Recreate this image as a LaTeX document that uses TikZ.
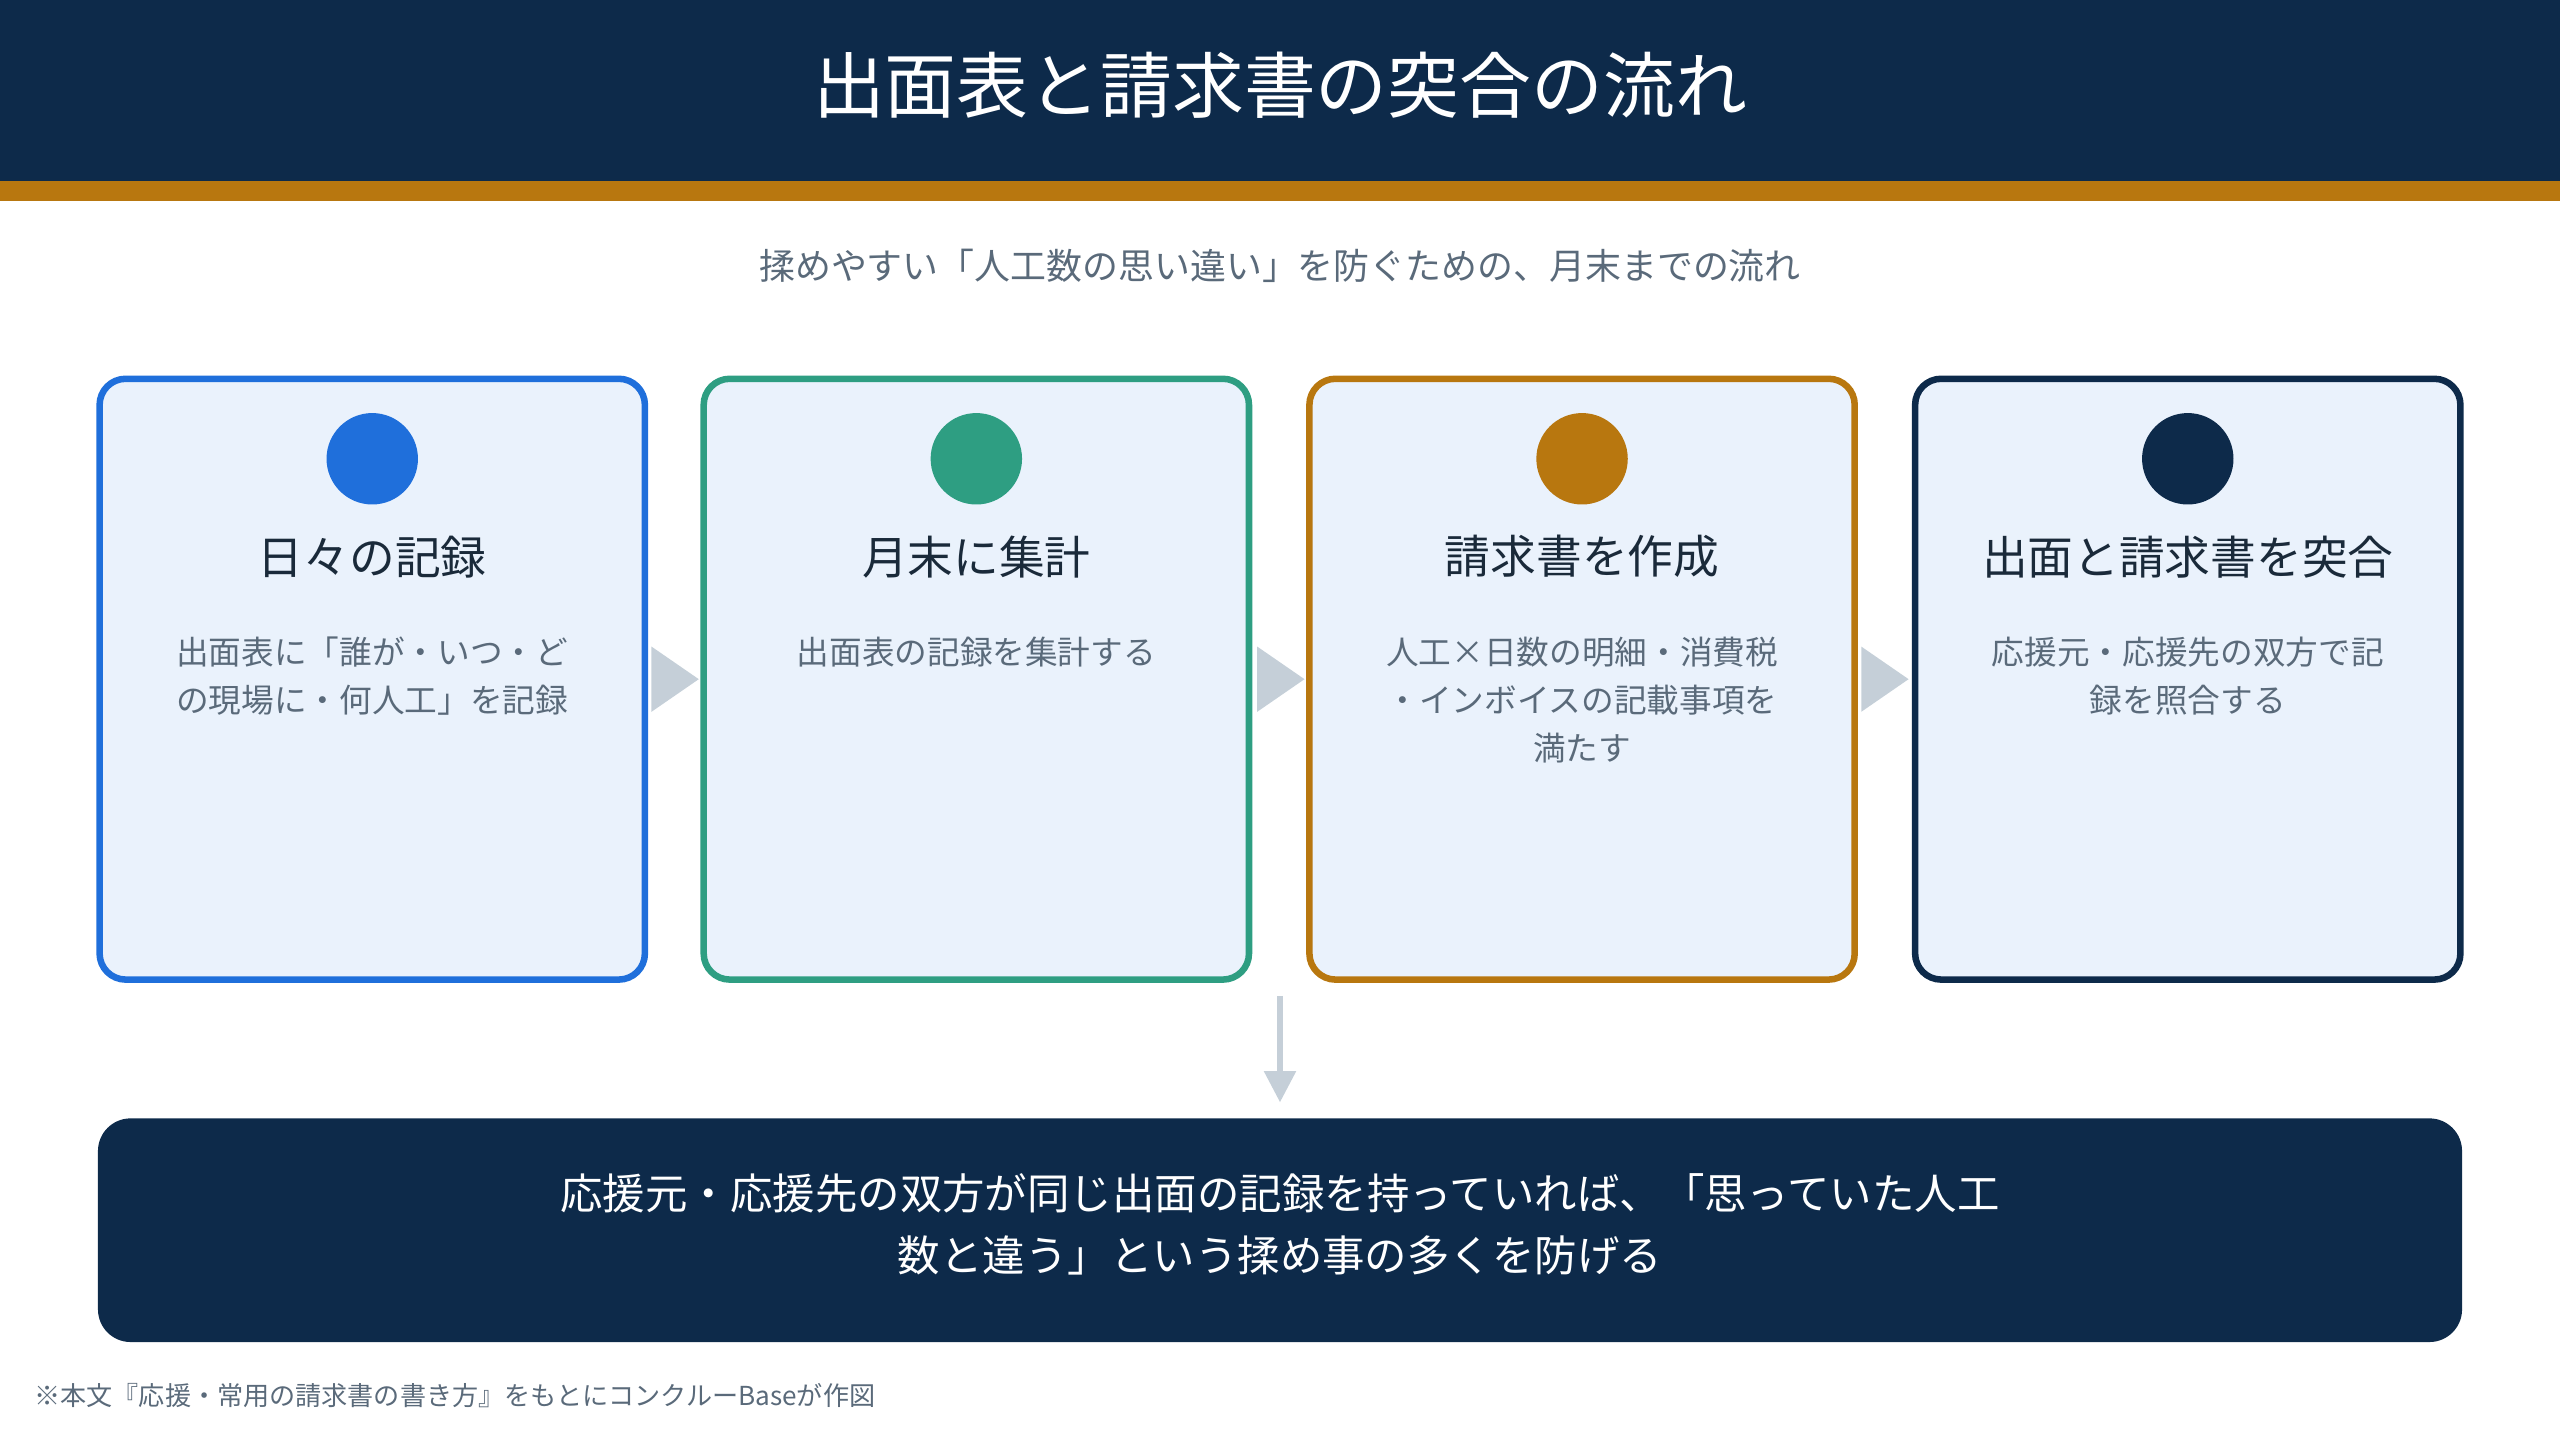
\documentclass[tikz,border=0pt]{standalone}
\usepackage{fontspec}
\setmainfont{Noto Sans CJK JP}
\definecolor{navy}{HTML}{0D2A4A}
\definecolor{gold}{HTML}{B8770F}
\definecolor{blueC}{HTML}{1F6FDB}
\definecolor{tealC}{HTML}{2E9E82}
\definecolor{grayT}{HTML}{5A6A7A}
\definecolor{darkT}{HTML}{1A2A3A}
\definecolor{boxF}{HTML}{EAF2FC}
\definecolor{arr}{HTML}{C5CFD8}
\begin{document}
\begin{tikzpicture}[x=0.5pt,y=-0.5pt,
 card/.style={draw=#1,line width=2pt,rounded corners=8pt,fill=boxF},
 dot/.style={circle,fill=#1,minimum size=28pt,inner sep=0pt},
 ttl/.style={text=darkT,font=\fontsize{14}{17}\selectfont},
 body/.style={text=grayT,font=\fontsize{10}{14.7}\selectfont,align=center,anchor=north},
 tri/.style={fill=arr}]
\useasboundingbox (0,0) rectangle (1568,882);
\fill[navy] (0,0) rectangle (1568,111);
\fill[gold] (0,111) rectangle (1568,123);
\node[text=white,font=\fontsize{22}{26}\selectfont] (title) at (784,52) {出面表と請求書の突合の流れ};
\node[text=grayT,font=\fontsize{11}{13}\selectfont] (sub) at (784,163) {揉めやすい「人工数の思い違い」を防ぐための、月末までの流れ};
% cards
\foreach \x/\c/\n in {61/blueC/a,431/tealC/b,802/gold/c,1173/navy/d}{
 \draw[card=\c] (\x,232) rectangle ++(334,368);
 \node[dot=\c] (dot\n) at (\x+167,281) {};
}
\node[ttl] (t1) at (228,341) {日々の記録};
\node[ttl] (t2) at (598,341) {月末に集計};
\node[ttl] (t3) at (969,341) {請求書を作成};
\node[ttl] (t4) at (1340,341) {出面と請求書を突合};
\node[body] (b1) at (228,383) {出面表に「誰が・いつ・ど\\の現場に・何人工」を記録};
\node[body] (b2) at (598,383) {出面表の記録を集計する};
\node[body] (b3) at (969,383) {人工×日数の明細・消費税\\・インボイスの記載事項を\\満たす};
\node[body] (b4) at (1340,383) {応援元・応援先の双方で記\\録を照合する};
\foreach \x in {399,770,1140}{
 \fill[tri] (\x,396) -- (\x+29,416) -- (\x,436) -- cycle;
}
\coordinate (ds) at (784,610);
\coordinate (de) at (784,675);
\draw[arr,line width=2pt] (ds) -- (784,660);
\fill[arr] (774,656) -- (794,656) -- (de) -- cycle;
\fill[navy,rounded corners=10pt] (60,685) rectangle (1508,822);
\node[text=white,font=\fontsize{13}{19}\selectfont,align=center] (concl) at (784,750) {応援元・応援先の双方が同じ出面の記録を持っていれば、「思っていた人工\\数と違う」という揉め事の多くを防げる};
\node[text=grayT,font=\fontsize{8}{10}\selectfont,anchor=west] (foot) at (14,855) {※本文『応援・常用の請求書の書き方』をもとにコンクルーBaseが作図};
\end{tikzpicture}
\end{document}
